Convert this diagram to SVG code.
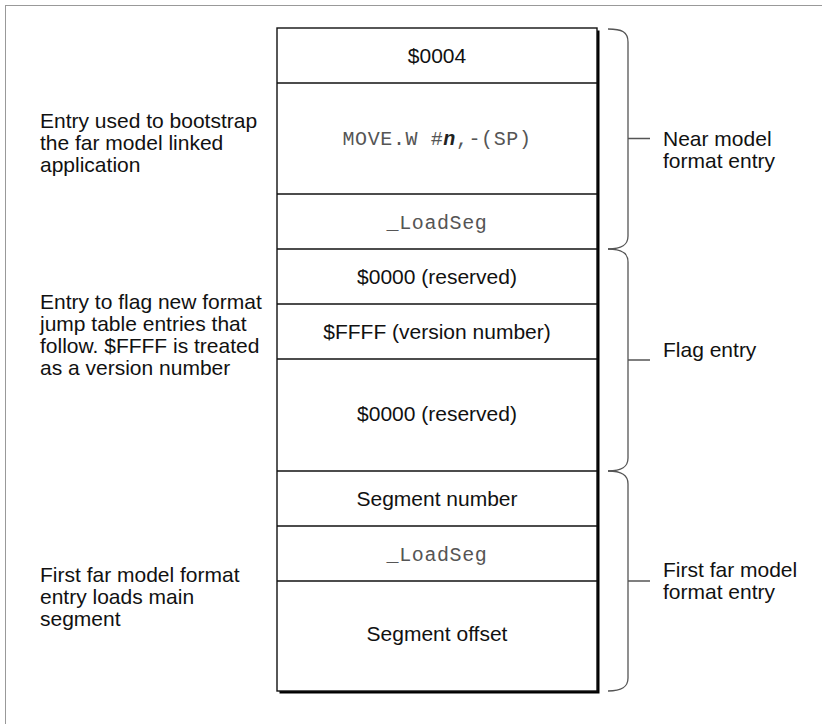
<svg xmlns="http://www.w3.org/2000/svg" width="822" height="724" viewBox="0 0 822 724">
<style>
.t{font-family:"Liberation Sans",Arial,sans-serif;font-size:21px;fill:#111}
.c{text-anchor:middle}
.m{font-family:"Liberation Mono","DejaVu Sans Mono",monospace;font-size:20px;fill:#555;letter-spacing:0.6px;text-anchor:middle}
.row{stroke:#111;stroke-width:1.4;fill:none}
.br{stroke:#555;stroke-width:1.3;fill:none}
</style>
<rect x="5.5" y="5.5" width="830" height="740" fill="#fff" stroke="#999" stroke-width="1"/>
<g id="table">
<rect x="279.5" y="30.5" width="320" height="663" fill="#000"/>
<rect x="277" y="28" width="320" height="663" fill="#fff" stroke="#111" stroke-width="1.4"/>
</g>
<g id="rows">
<g id="r1"><text class="t c" x="437" y="63">$0004</text></g>
<line class="row" x1="277" y1="83" x2="597" y2="83"/>
<g id="r2"><text class="m" x="437" y="145">MOVE.W #<tspan font-weight="bold" font-style="italic" fill="#222">n</tspan>,-(SP)</text></g>
<line class="row" x1="277" y1="194" x2="597" y2="194"/>
<g id="r3"><text class="m" x="437" y="229">_LoadSeg</text></g>
<line class="row" x1="277" y1="249" x2="597" y2="249"/>
<g id="r4"><text class="t c" x="437" y="284">$0000 (reserved)</text></g>
<line class="row" x1="277" y1="304" x2="597" y2="304"/>
<g id="r5"><text class="t c" x="437" y="339">$FFFF (version number)</text></g>
<line class="row" x1="277" y1="359" x2="597" y2="359"/>
<g id="r6"><text class="t c" x="437" y="421">$0000 (reserved)</text></g>
<line class="row" x1="277" y1="471" x2="597" y2="471"/>
<g id="r7"><text class="t c" x="437" y="506">Segment number</text></g>
<line class="row" x1="277" y1="526" x2="597" y2="526"/>
<g id="r8"><text class="m" x="437" y="561">_LoadSeg</text></g>
<line class="row" x1="277" y1="581" x2="597" y2="581"/>
<g id="r9"><text class="t c" x="437" y="641">Segment offset</text></g>
</g>
<g id="braces">
<path class="br" d="M608,29 C622,29 628,32 628,42 L628,236 C628,245 622,249 608,249 M628,138.5 L650,138.5"/>
<path class="br" d="M608,249 C622,249 628,253 628,262 L628,458 C628,467 622,471 608,471 M628,360 L650,360"/>
<path class="br" d="M608,471 C622,471 628,475 628,484 L628,678 C628,687 622,691 608,691 M628,581 L650,581"/>
</g>
<g id="left-notes">
<text class="t" x="40"><tspan x="40" y="128">Entry used to bootstrap</tspan><tspan x="40" y="150">the far model linked</tspan><tspan x="40" y="172">application</tspan></text>
<text class="t" x="40"><tspan x="40" y="309">Entry to flag new format</tspan><tspan x="40" y="331">jump table entries that</tspan><tspan x="40" y="353">follow. $FFFF is treated</tspan><tspan x="40" y="375">as a version number</tspan></text>
<text class="t" x="40"><tspan x="40" y="582">First far model format</tspan><tspan x="40" y="604">entry loads main</tspan><tspan x="40" y="626">segment</tspan></text>
</g>
<g id="right-labels">
<text class="t" x="663"><tspan x="663" y="146">Near model</tspan><tspan x="663" y="168">format entry</tspan></text>
<text class="t" x="663" y="357">Flag entry</text>
<text class="t" x="663"><tspan x="663" y="577">First far model</tspan><tspan x="663" y="599">format entry</tspan></text>
</g>
</svg>
